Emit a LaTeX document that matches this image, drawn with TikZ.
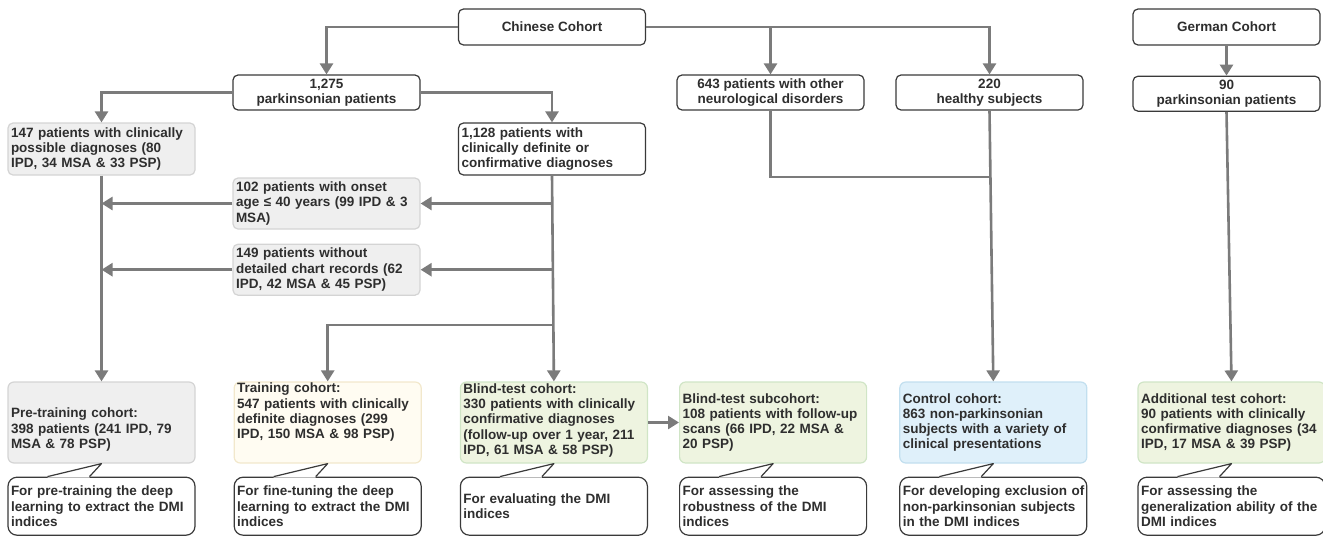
\documentclass[tikz,border=0pt]{standalone}
\usepackage{fontspec}
\setmainfont{Liberation Sans}
\usetikzlibrary{positioning, calc, arrows.meta}

\definecolor{textgray}{HTML}{2E2E2E}
\definecolor{boxline}{HTML}{3A3A3A}
\definecolor{linegray}{HTML}{7B7B7B}
\definecolor{greyfill}{HTML}{EFEFEF}
\definecolor{greyline}{HTML}{D4D4D4}
\definecolor{creamfill}{HTML}{FFFCF2}
\definecolor{creamline}{HTML}{F2E8CC}
\definecolor{greenfill}{HTML}{EEF4E0}
\definecolor{greenline}{HTML}{D0E5C6}
\definecolor{bluefill}{HTML}{DFF0FA}
\definecolor{blueline}{HTML}{C2DFEF}

\begin{document}
\begin{tikzpicture}[x=1pt, y=-1pt, font=\fontsize{13.5}{15.3}\selectfont\bfseries, text=textgray]
    \tikzstyle{box} = [rounded corners=5pt, line width=1.2pt, inner xsep=3pt, inner ysep=0pt];
    \tikzstyle{flush} = [text width=181pt, align=left];
    \tikzstyle{plainbox} = [box, draw=boxline, fill=white, minimum width=187pt, align=center];
    \tikzstyle{greybox} = [box, draw=greyline, fill=greyfill, flush];
    \tikzstyle{cohortbox} = [box, rounded corners=6pt, flush, minimum height=81pt];
    \tikzstyle{notebox} = [box, draw=boxline, fill=white, rounded corners=9pt, flush, minimum height=58pt];
    \tikzstyle{link} = [draw=linegray, line width=2.6pt];
    \tikzstyle{flow} = [link, -{Triangle[width=13pt, length=11pt]}];

    \useasboundingbox (0,0) rectangle (1323,536);

    % sources
    \node[plainbox, minimum height=36pt] (cn) at (552,27) {Chinese Cohort};
    \node[plainbox, minimum height=36pt] (gc) at (1226.5,27) {German Cohort};

    \node[plainbox, minimum height=35pt] (pk) at (326.5,92.5) {1,275\\parkinsonian patients};
    \node[plainbox, minimum height=35pt] (od) at (770.5,92.5) {643 patients with other\\neurological disorders};
    \node[plainbox, minimum height=35pt] (hs) at (989.5,92.5) {220\\healthy subjects};
    \node[plainbox, minimum height=35pt, below = 30pt of gc] (gp) {90\\parkinsonian patients};

    % split of the parkinsonian patients
    \node[greybox, minimum height=52pt] (pp) at (101.5,149) {147 patients with clinically\\possible diagnoses (80\\IPD, 34 MSA \& 33 PSP)};
    \node[plainbox, flush, minimum height=52pt] (dc) at (552,149) {1,128 patients with\\clinically definite or\\confirmative diagnoses};
    \node[greybox, minimum height=51pt] (ex1) at (326.5,203.5) {102 patients with onset\\age ≤ 40 years (99 IPD \& 3\\MSA)};
    \node[greybox, minimum height=51pt, below = 14pt of ex1] (ex2) {149 patients without\\detailed chart records (62\\IPD, 42 MSA \& 45 PSP)};

    % cohorts
    \node[cohortbox, draw=greyline, fill=greyfill] (pre) at (101.5,422.5) {\rule{0pt}{24pt}Pre-training cohort:\\398 patients (241 IPD, 79\\MSA \& 78 PSP)};
    \node[cohortbox, draw=creamline, fill=creamfill, right = 38pt of pre] (train) {Training cohort:\\547 patients with clinically\\definite diagnoses (299\\IPD, 150 MSA \& 98 PSP)\rule[-23pt]{0pt}{1pt}};
    \node[cohortbox, draw=greenline, fill=greenfill, right = 38pt of train] (blind) {Blind-test cohort:\\330 patients with clinically\\confirmative diagnoses\\(follow-up over 1 year, 211\\IPD, 61 MSA \& 58 PSP)\rule[-7pt]{0pt}{1pt}};
    \node[cohortbox, draw=greenline, fill=greenfill, right = 31pt of blind] (sub) {Blind-test subcohort:\\108 patients with follow-up\\scans (66 IPD, 22 MSA \&\\20 PSP)};
    \node[cohortbox, draw=blueline, fill=bluefill, right = 32pt of sub] (ctrl) {Control cohort:\\863 non-parkinsonian\\subjects with a variety of\\clinical presentations};
    \node[cohortbox, draw=greenline, fill=greenfill, right = 50pt of ctrl] (add) {Additional test cohort:\\90 patients with clinically\\confirmative diagnoses (34\\IPD, 17 MSA \& 39 PSP)};

    % purposes
    \node[notebox, below = 13pt of pre] (prenote) {For pre-training the deep\\learning to extract the DMI\\indices};
    \node[notebox, below = 13pt of train] (trainnote) {For fine-tuning the deep\\learning to extract the DMI\\indices};
    \node[notebox, below = 13pt of blind] (blindnote) {For evaluating the DMI\\indices};
    \node[notebox, below = 13pt of sub] (subnote) {For assessing the\\robustness of the DMI\\indices};
    \node[notebox, below = 13pt of ctrl] (ctrlnote) {\mbox{For developing exclusion of}\\non-parkinsonian subjects\\in the DMI indices};
    \node[notebox, below = 13pt of add] (addnote) {For assessing the\\generalization ability of the\\DMI indices};

    \foreach \b/\c in {pre/prenote, train/trainnote, blind/blindnote, sub/subnote, ctrl/ctrlnote, add/addnote} {
        \fill[white] ($(\c.north)+(-54pt,-0.9pt)$) -- ($(\c.north)+(-54pt,0pt)$) -- (\b.south) -- ($(\c.north)+(-12pt,0pt)$) -- ($(\c.north)+(-12pt,-0.9pt)$) -- cycle;
        \draw[boxline, line width=1.2pt, line join=round] ($(\c.north)+(-54pt,0pt)$) -- (\b.south) -- ($(\c.north)+(-12pt,0pt)$);
    }

    \coordinate (split) at (552,325);
    \coordinate (merge) at (989.5,177);

    \draw[flow] (cn.west) -| (pk.north);
    \draw[flow] (cn.east) -| (hs.north);
    \draw[flow] (od.north |- cn.east) -- (od.north);
    \draw[flow] (gc.south) -- (gp.north);

    \draw[flow] (pk.west) -| (pp.north);
    \draw[flow] (pk.east) -| (dc.north);

    \draw[flow] (dc.south |- ex1.east) -- (ex1.east);
    \draw[flow] (ex1.west) -- (pp.south |- ex1.west);
    \draw[flow] (dc.south |- ex2.east) -- (ex2.east);
    \draw[flow] (ex2.west) -- (pp.south |- ex2.west);

    \draw[flow] (pp.south) -- (pre.north);
    \draw[flow] (dc.south) -- (blind.north);
    \draw[flow] (split) -| (train.north);
    \draw[flow] (blind.east) -- (sub.west);

    \draw[link] (od.south) |- (merge);
    \draw[flow] (hs.south) -- (ctrl.north);
    \draw[flow] (gp.south) -- (add.north);
\end{tikzpicture}
\end{document}
